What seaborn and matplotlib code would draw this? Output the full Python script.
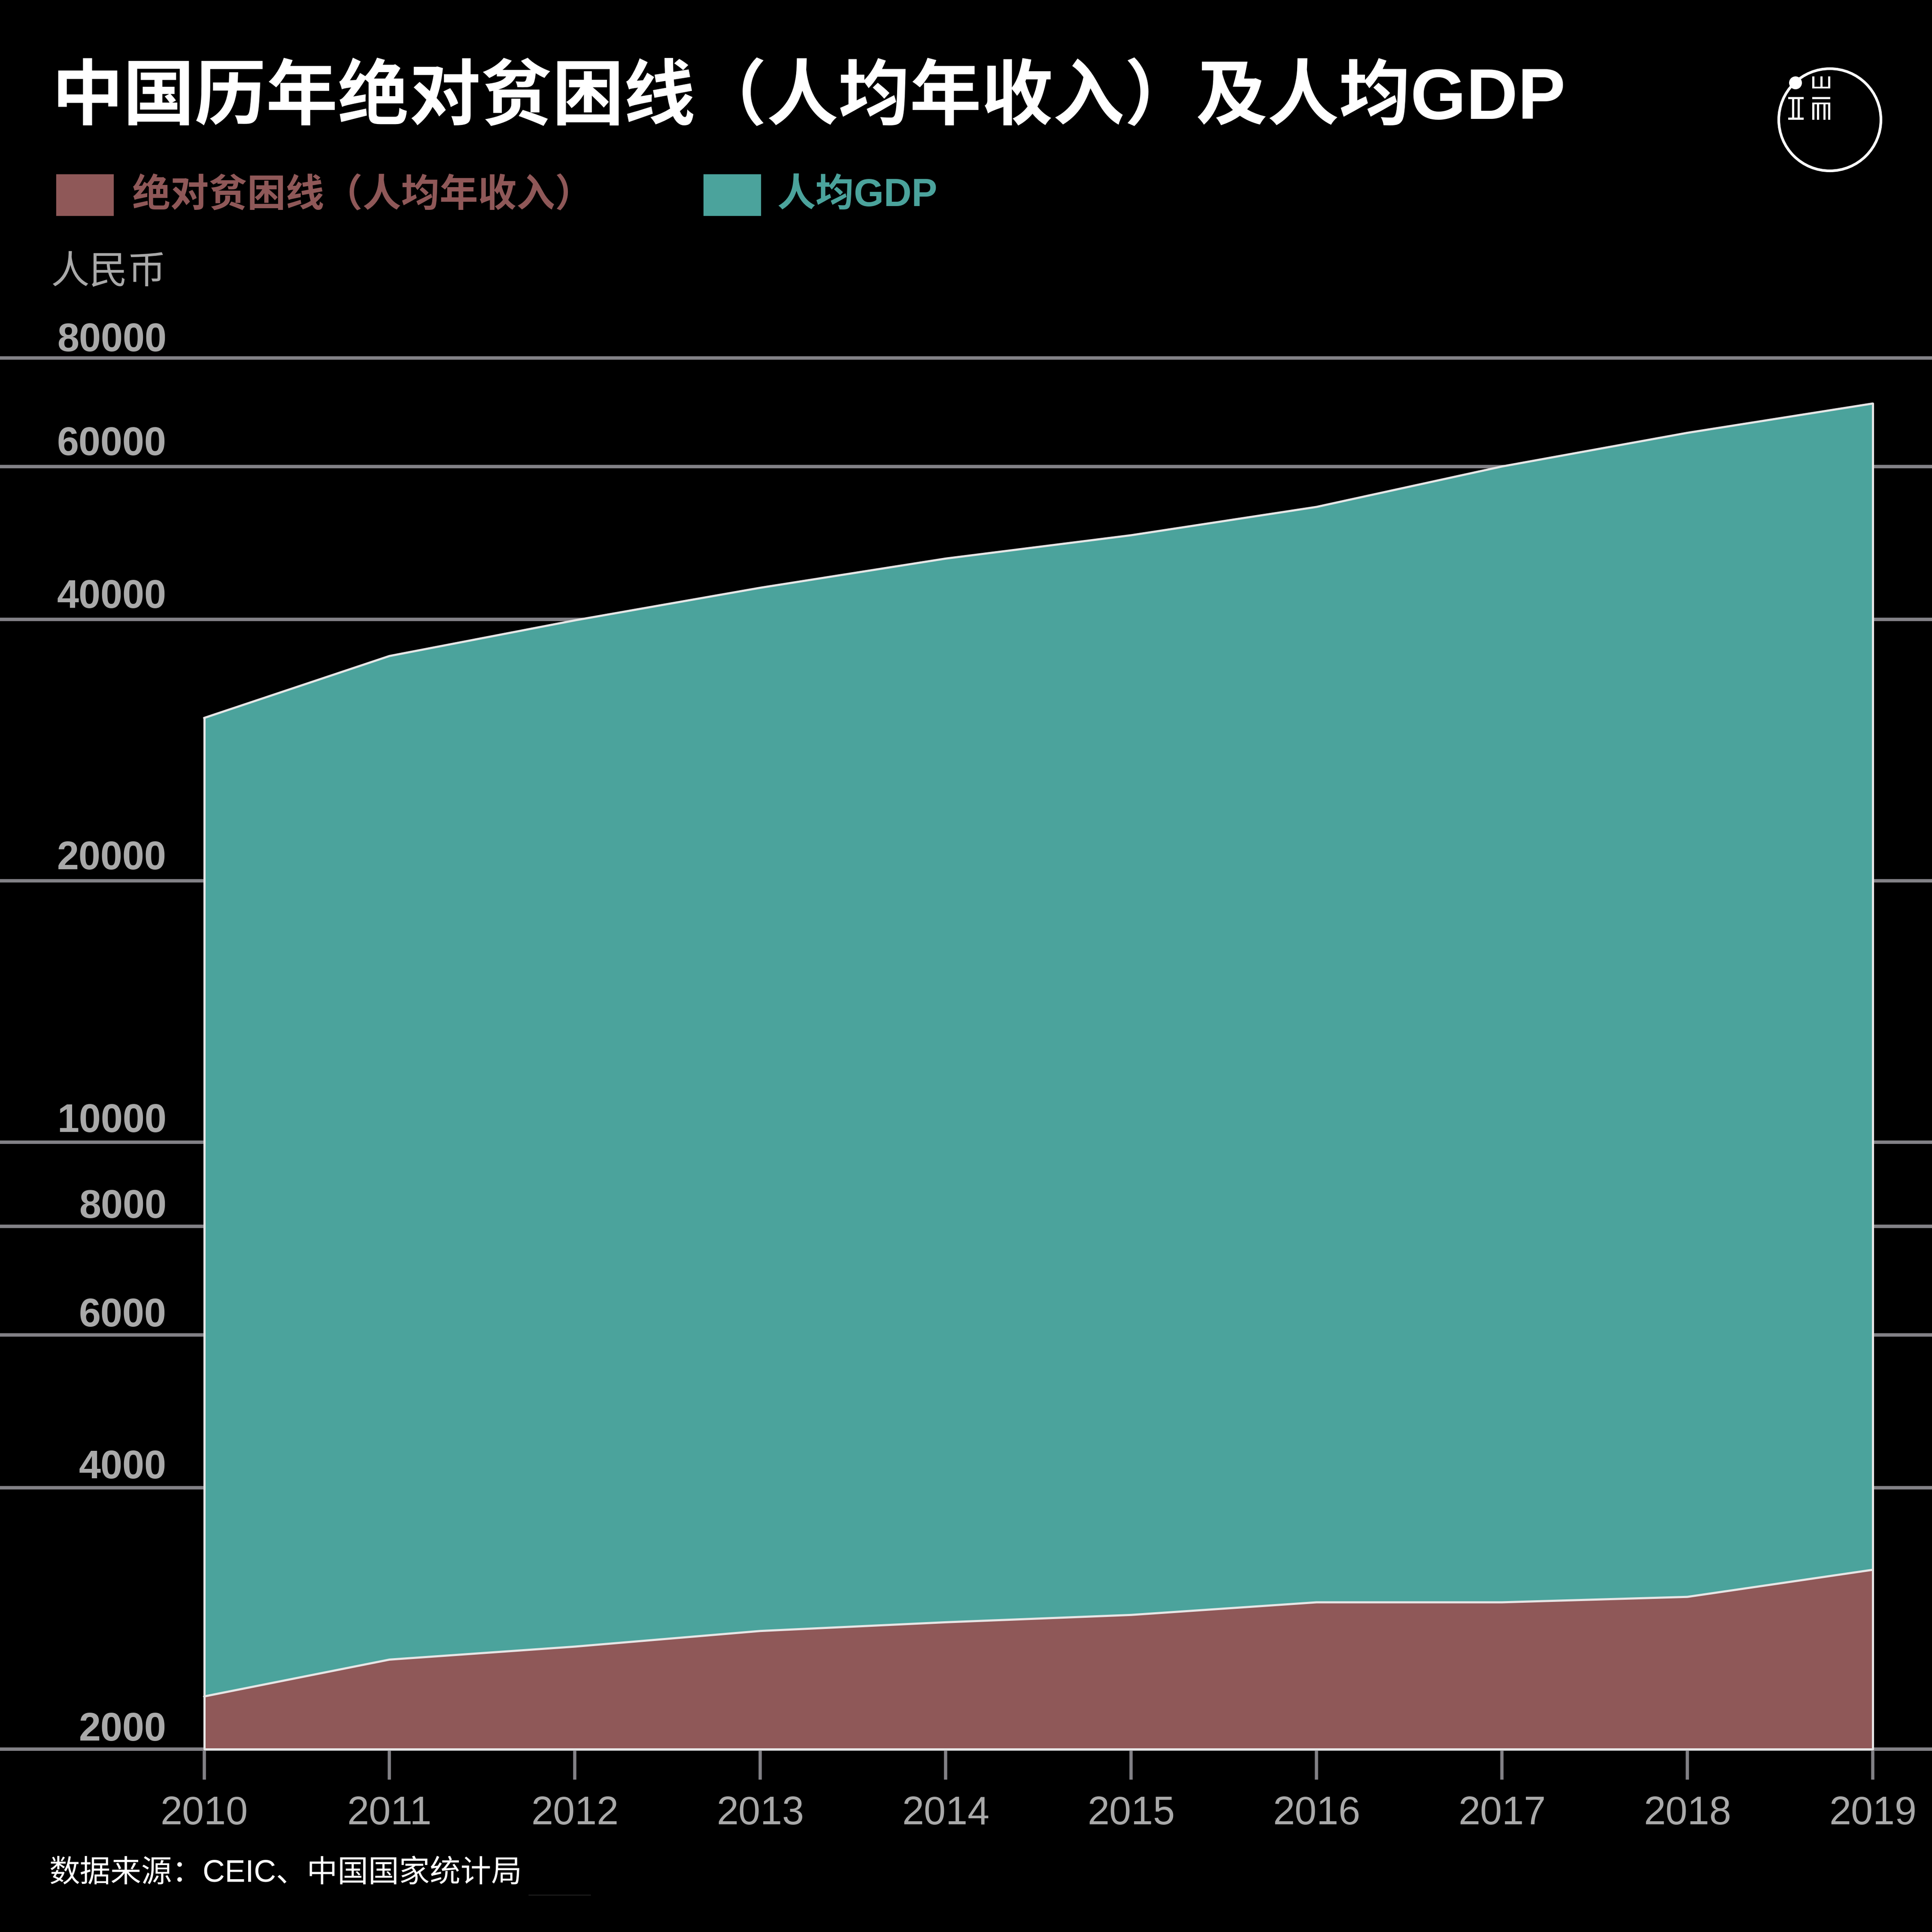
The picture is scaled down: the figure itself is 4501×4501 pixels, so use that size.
"""中国历年绝对贫困线（人均年收入）及人均GDP"""
import matplotlib
matplotlib.use('Agg')
import matplotlib.pyplot as plt
from matplotlib.lines import Line2D
from matplotlib.patches import Circle, Rectangle
from matplotlib.ticker import NullLocator
import seaborn as sns

years = [2010, 2011, 2012, 2013, 2014, 2015, 2016, 2017, 2018, 2019]
poverty_line = [2300, 2536, 2625, 2736, 2800, 2855, 2952, 2952, 2995, 3218]
gdp_per_capita = [30800, 36300, 39900, 43500, 47000, 50000, 53900, 60000, 65600, 70900]
y_ticks = [2000, 4000, 6000, 8000, 10000, 20000, 40000, 60000, 80000]

title = '中国历年绝对贫困线（人均年收入）及人均GDP'
legend_labels = ['绝对贫困线（人均年收入）', '人均GDP']
unit_label = '人民币'
source = '数据来源：CEIC、中国国家统计局'

W = H = 4501
DPI = 300
BROWN = '#8F5858'
TEAL = '#4BA39C'
GRID = '#828186'
LABEL = '#A9A9A9'
OUTLINE = '#E6E6E6'
FONTS = ['Liberation Sans', 'Noto Sans CJK SC', 'DejaVu Sans']

sns.set_theme(style='dark', rc={
    'figure.facecolor': 'black',
    'axes.facecolor': 'none',
    'savefig.facecolor': 'black',
})
plt.rcParams['font.family'] = FONTS


def fx(px):
    return px / W


def fy(px):
    return 1 - px / H


def box(fig, x0, y0, x1, y1, color='white'):
    """Прямоугольник в пикселях картинки."""
    fig.add_artist(Rectangle((fx(x0), fy(y1)), (x1 - x0) / W, (y1 - y0) / H,
                             transform=fig.transFigure, facecolor=color,
                             edgecolor='none'))


def draw_logo(fig):
    cx, cy, r = 4263, 279, 119
    fig.add_artist(Circle((cx, H - cy), r, transform=None, fill=False,
                          edgecolor='white', linewidth=1.5))
    fig.add_artist(Circle((4183, H - 193), 15, transform=None, facecolor='white',
                          edgecolor='none'))
    ox, oy = 4000, 100
    bars = [
        (665, 305, 792, 318), (665, 235, 680, 318), (722, 235, 737, 318), (778, 235, 792, 318),
        (498, 378, 606, 392), (498, 523, 606, 537), (525, 392, 540, 523), (565, 392, 580, 523),
        (665, 378, 792, 392), (665, 417, 792, 430), (665, 417, 680, 537),
        (700, 417, 715, 537), (745, 417, 760, 537), (778, 417, 792, 537),
    ]
    for x0, y0, x1, y1 in bars:
        box(fig, ox + x0 / 3, oy + y0 / 3, ox + x1 / 3, oy + y1 / 3)


fig = plt.figure(figsize=(W / DPI, H / DPI), dpi=DPI)

# оси на всю ширину, сетка идёт от края до края
X_2010, X_2019 = 475.5, 4363
Y_TOP, Y_BOTTOM = 834, 4075
ax = fig.add_axes([0, fy(Y_BOTTOM), 1, (Y_BOTTOM - Y_TOP) / H])
per_year = (X_2019 - X_2010) / 9
ax.set_xlim(2010 - X_2010 / per_year, 2019 + (W - X_2019) / per_year)
ax.set_yscale('log', base=2)
ax.set_ylim(2000, 80000)

ax.fill_between(years, 2000, gdp_per_capita, color=TEAL, linewidth=0, zorder=2, clip_on=False)
ax.fill_between(years, 2000, poverty_line, color=BROWN, linewidth=0, zorder=3, clip_on=False)
for series in (gdp_per_capita, poverty_line):
    sns.lineplot(x=years, y=series, color=OUTLINE, linewidth=1.2, ax=ax, zorder=4)
ax.plot([years[0], years[0], years[-1], years[-1]],
        [gdp_per_capita[0], 2000, 2000, gdp_per_capita[-1]],
        color=OUTLINE, linewidth=1.2, zorder=4, clip_on=False)

for spine in ax.spines.values():
    spine.set_visible(False)
ax.set_yticks(y_ticks)
ax.yaxis.set_minor_locator(NullLocator())
ax.set_yticklabels([])
ax.tick_params(axis='y', length=0)
ax.grid(False)
for v in y_ticks:
    ax.axhline(v, color=GRID, linewidth=1.9, zorder=1, clip_on=False)

ax.set_xticks(years)
ax.set_xticklabels(years)
ax.tick_params(axis='x', direction='out', length=17, width=1.8, color=GRID,
               labelcolor=LABEL, labelsize=22, pad=9, bottom=True)
ax.set_xlabel('')
ax.set_ylabel('')

# подписи оси Y стоят над линиями сетки
label_gaps = [20, 22, 20, 20, 24, 27, 27, 27, 16]
for v, gap in zip(y_ticks, label_gaps):
    ax.annotate(str(v), xy=(388 / W, v), xycoords=ax.get_yaxis_transform(),
                xytext=(0, gap * 72 / DPI), textcoords='offset points',
                ha='right', va='baseline', color=LABEL, fontsize=22, fontweight='bold')

fig.text(fx(120), fy(232), title, color='white', fontsize=40, fontweight='bold',
         ha='left', va='center')

box(fig, 131, 406, 265, 503, BROWN)
box(fig, 1639, 406, 1773, 503, TEAL)
fig.text(fx(308), fy(456), legend_labels[0], color=BROWN, fontsize=21.5, fontweight='bold',
         ha='left', va='center')
fig.text(fx(1810), fy(456), legend_labels[1], color=TEAL, fontsize=21.5, fontweight='bold',
         ha='left', va='center')

fig.text(fx(118), fy(637), unit_label, color=LABEL, fontsize=21.5, ha='left', va='center')
fig.text(fx(114), fy(4365), source, color='white', fontsize=17.2, ha='left', va='center')
fig.add_artist(Line2D([fx(1232), fx(1376)], [fy(4415), fy(4415)], color='#2a2a2a', linewidth=0.4))

draw_logo(fig)

fig.savefig('out.png', dpi=DPI)
plt.close(fig)
